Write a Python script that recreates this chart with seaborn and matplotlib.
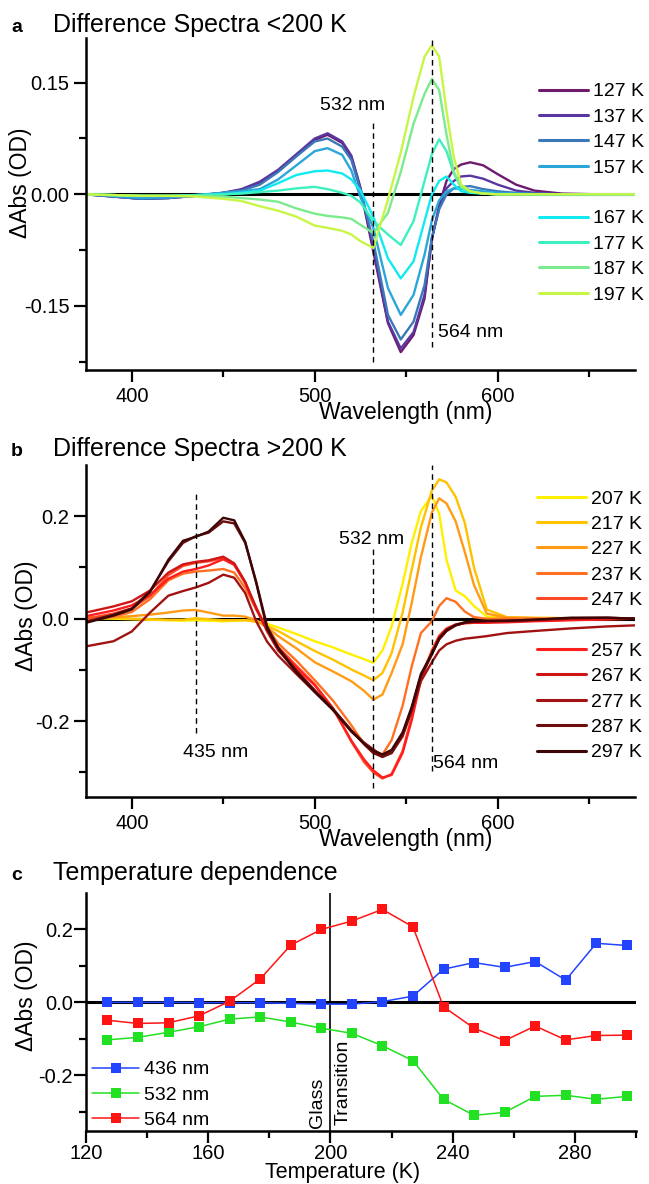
import numpy as np
import pandas as pd
import matplotlib
matplotlib.use('Agg')
import matplotlib.pyplot as plt
import seaborn as sns
from matplotlib.lines import Line2D
from matplotlib.ticker import MultipleLocator, FixedLocator, FormatStrFormatter

sns.set_style('ticks')
plt.rcParams['font.family'] = ['Liberation Sans', 'DejaVu Sans']
plt.rcParams['axes.unicode_minus'] = False
for key in ['text.color', 'axes.labelcolor', 'xtick.color', 'ytick.color', 'axes.edgecolor']:
    plt.rcParams[key] = 'black'

# ---------------- panel a: difference spectra below 200 K ----------------
wl_a = [375, 390, 405, 420, 435, 450, 460, 470, 480, 490, 500, 507, 515, 520, 525,
        532, 540, 547, 554, 560, 564, 568, 572, 576, 580, 585, 592, 600, 610, 620,
        635, 655, 675]
temps_a = ['127 K', '137 K', '147 K', '157 K', '167 K', '177 K', '187 K', '197 K']
colors_a = ['#6e1a6e', '#5a37a0', '#3b78b8', '#2aa6d8', '#12eaf2', '#3cf0c0', '#7aec8e', '#c8f646']

a127 = [0.000, -0.003, -0.006, -0.005, -0.002, 0.002, 0.006, 0.016, 0.031, 0.052, 0.073, 0.080, 0.069, 0.050, 0.007,
        -0.077, -0.173, -0.212, -0.189, -0.140, -0.060, -0.015, 0.018, 0.034, 0.040, 0.043, 0.039, 0.027, 0.013, 0.005,
        0.001, 0.000, 0.000]
a137 = [0.000, -0.003, -0.006, -0.005, -0.002, 0.002, 0.007, 0.017, 0.033, 0.054, 0.075, 0.082, 0.071, 0.052, 0.009,
        -0.072, -0.171, -0.207, -0.185, -0.135, -0.060, -0.018, 0.008, 0.018, 0.024, 0.025, 0.021, 0.013, 0.005, 0.002,
        0.000, 0.000, 0.000]
a147 = [0.000, -0.003, -0.006, -0.005, -0.002, 0.002, 0.005, 0.013, 0.030, 0.051, 0.071, 0.075, 0.064, 0.046, 0.005,
        -0.063, -0.162, -0.195, -0.171, -0.122, -0.058, -0.020, 0.000, 0.008, 0.010, 0.011, 0.007, 0.004, 0.002, 0.001,
        0.000, 0.000, 0.000]
a157 = [0.000, -0.002, -0.005, -0.004, -0.001, 0.002, 0.004, 0.007, 0.020, 0.039, 0.058, 0.062, 0.053, 0.032, -0.004,
        -0.045, -0.126, -0.162, -0.135, -0.081, -0.035, -0.008, 0.004, 0.008, 0.007, 0.006, 0.004, 0.002, 0.001, 0.000,
        0.000, 0.000, 0.000]
a167 = [0.000, -0.001, -0.002, -0.002, -0.001, 0.000, 0.002, 0.005, 0.015, 0.026, 0.031, 0.032, 0.028, 0.020, 0.005,
        -0.030, -0.086, -0.113, -0.090, -0.036, 0.000, 0.018, 0.024, 0.013, 0.004, 0.002, 0.001, 0.000, 0.000, 0.000,
        0.000, 0.000, 0.000]
a177 = [0.000, -0.001, -0.002, -0.002, -0.001, 0.000, 0.001, 0.003, 0.005, 0.008, 0.010, 0.007, 0.002, -0.002, -0.011,
        -0.036, -0.054, -0.068, -0.036, 0.018, 0.054, 0.074, 0.058, 0.028, 0.009, 0.003, 0.001, 0.000, 0.000, 0.000,
        0.000, 0.000, 0.000]
a187 = [0.000, -0.001, -0.002, -0.002, -0.002, -0.003, -0.005, -0.007, -0.010, -0.019, -0.026, -0.029, -0.031, -0.033, -0.041,
        -0.052, -0.025, 0.030, 0.095, 0.135, 0.155, 0.140, 0.080, 0.030, 0.010, 0.004, 0.001, 0.000, 0.000, 0.000,
        0.000, 0.000, 0.000]
a197 = [0.000, -0.001, -0.002, -0.002, -0.003, -0.006, -0.009, -0.016, -0.022, -0.030, -0.042, -0.045, -0.049, -0.054, -0.063,
        -0.072, -0.007, 0.056, 0.131, 0.185, 0.200, 0.185, 0.112, 0.050, 0.013, 0.004, 0.001, 0.000, 0.000, 0.000,
        0.000, 0.000, 0.000]

# ---------------- panel b: difference spectra above 200 K ----------------
wl_b = [375, 390, 400, 410, 420, 428, 435, 442, 450, 456, 462, 468, 474, 480, 490,
        500, 510, 520, 527, 532, 537, 542, 548, 553, 558, 564, 568, 572, 577, 582,
        587, 594, 605, 620, 640, 660, 675]
temps_b = ['207 K', '217 K', '227 K', '237 K', '247 K', '257 K', '267 K', '277 K', '287 K', '297 K']
colors_b = ['#fff000', '#ffc200', '#ff9b14', '#ff7022', '#ff4a26', '#ff1e1e', '#cf1515', '#a11313', '#6e0d0d', '#3d0606']

b207 = [0.001, 0.000, -0.001, -0.002, -0.003, -0.004, -0.003, -0.004, -0.005, -0.004, -0.003, -0.005, -0.010, -0.017, -0.030,
        -0.044, -0.056, -0.070, -0.079, -0.086, -0.062, -0.015, 0.068, 0.148, 0.210, 0.240, 0.205, 0.115, 0.055, 0.044,
        0.025, 0.004, 0.001, 0.000, 0.000, 0.000, 0.000]
b217 = [0.003, 0.002, 0.000, -0.001, -0.002, -0.002, 0.001, -0.001, -0.003, -0.003, -0.003, -0.006, -0.014, -0.024, -0.044,
        -0.063, -0.080, -0.099, -0.111, -0.120, -0.106, -0.067, 0.012, 0.096, 0.178, 0.250, 0.272, 0.266, 0.238, 0.187,
        0.100, 0.018, 0.003, 0.002, 0.001, 0.000, 0.000]
b227 = [0.000, 0.003, 0.005, 0.008, 0.012, 0.016, 0.017, 0.012, 0.006, 0.006, 0.004, -0.003, -0.017, -0.034, -0.058,
        -0.085, -0.103, -0.122, -0.141, -0.158, -0.148, -0.106, -0.050, 0.031, 0.120, 0.207, 0.235, 0.225, 0.190, 0.130,
        0.066, 0.010, 0.002, 0.001, 0.000, 0.000, 0.000]
b237 = [-0.002, 0.004, 0.013, 0.038, 0.075, 0.088, 0.092, 0.094, 0.097, 0.090, 0.060, 0.018, -0.018, -0.048, -0.082,
        -0.120, -0.160, -0.208, -0.245, -0.262, -0.265, -0.237, -0.170, -0.093, -0.028, -0.005, 0.025, 0.040, 0.033, 0.014,
        0.003, 0.000, 0.000, 0.000, 0.000, 0.000, 0.000]
b247 = [0.000, 0.010, 0.020, 0.044, 0.085, 0.103, 0.109, 0.112, 0.118, 0.106, 0.070, 0.020, -0.022, -0.055, -0.092,
        -0.128, -0.175, -0.240, -0.280, -0.300, -0.312, -0.303, -0.258, -0.192, -0.115, -0.062, -0.033, -0.019, -0.011, -0.008,
        -0.006, -0.006, -0.005, -0.004, -0.002, -0.001, 0.000]
b257 = [0.005, 0.016, 0.026, 0.046, 0.078, 0.092, 0.097, 0.104, 0.116, 0.105, 0.070, 0.022, -0.022, -0.058, -0.095,
        -0.130, -0.175, -0.238, -0.275, -0.296, -0.310, -0.305, -0.262, -0.198, -0.120, -0.065, -0.035, -0.020, -0.012, -0.009,
        -0.008, -0.008, -0.007, -0.005, -0.003, -0.001, 0.000]
b267 = [0.012, 0.024, 0.034, 0.055, 0.090, 0.106, 0.111, 0.114, 0.121, 0.108, 0.072, 0.020, -0.025, -0.062, -0.100,
        -0.140, -0.178, -0.220, -0.243, -0.256, -0.266, -0.260, -0.226, -0.175, -0.112, -0.068, -0.040, -0.024, -0.013, -0.008,
        -0.006, -0.005, -0.005, -0.003, 0.000, 0.001, 0.000]
b277 = [-0.054, -0.044, -0.025, 0.012, 0.045, 0.054, 0.061, 0.070, 0.086, 0.080, 0.050, -0.005, -0.045, -0.072, -0.108,
        -0.143, -0.178, -0.218, -0.242, -0.255, -0.268, -0.262, -0.230, -0.180, -0.122, -0.085, -0.062, -0.050, -0.043, -0.039,
        -0.037, -0.034, -0.028, -0.024, -0.019, -0.015, -0.013]
b287 = [-0.006, 0.008, 0.020, 0.054, 0.112, 0.148, 0.161, 0.168, 0.190, 0.186, 0.148, 0.072, -0.015, -0.056, -0.102,
        -0.140, -0.176, -0.218, -0.245, -0.262, -0.270, -0.262, -0.226, -0.176, -0.112, -0.070, -0.040, -0.024, -0.013, -0.008,
        -0.006, -0.005, -0.004, -0.002, 0.001, 0.002, 0.000]
b297 = [-0.008, 0.006, 0.018, 0.052, 0.115, 0.152, 0.160, 0.170, 0.197, 0.192, 0.150, 0.070, -0.020, -0.058, -0.105,
        -0.143, -0.178, -0.220, -0.244, -0.258, -0.265, -0.256, -0.222, -0.172, -0.108, -0.068, -0.038, -0.022, -0.012, -0.007,
        -0.005, -0.004, -0.004, -0.002, 0.002, 0.002, 0.000]

# ---------------- panel c: temperature dependence ----------------
temps_c = [127, 137, 147, 157, 167, 177, 187, 197, 207, 217, 227, 237, 247, 257, 267, 277, 287, 297]
probes_c = ['436 nm', '532 nm', '564 nm']
colors_c = ['#2244ff', '#22e022', '#ff1414']
c436 = [0.000, 0.000, 0.000, -0.001, -0.001, -0.001, -0.003, -0.005, -0.005, 0.002, 0.017, 0.091, 0.109, 0.096, 0.112, 0.061, 0.162, 0.156]
c532 = [-0.103, -0.096, -0.082, -0.067, -0.046, -0.040, -0.054, -0.071, -0.085, -0.119, -0.160, -0.266, -0.310, -0.302, -0.258, -0.255, -0.266, -0.258]
c564 = [-0.049, -0.058, -0.056, -0.037, 0.003, 0.064, 0.157, 0.200, 0.223, 0.255, 0.207, -0.012, -0.071, -0.105, -0.065, -0.103, -0.091, -0.090]

# long-form tables for seaborn
spec_a = pd.DataFrame({
    'wavelength': wl_a * len(temps_a),
    'dabs': a127 + a137 + a147 + a157 + a167 + a177 + a187 + a197,
    'temp': np.repeat(temps_a, len(wl_a)),
})
spec_b = pd.DataFrame({
    'wavelength': wl_b * len(temps_b),
    'dabs': b207 + b217 + b227 + b237 + b247 + b257 + b267 + b277 + b287 + b297,
    'temp': np.repeat(temps_b, len(wl_b)),
})
tdep = pd.DataFrame({
    'temperature': temps_c * 3,
    'dabs': c436 + c532 + c564,
    'probe': np.repeat(probes_c, len(temps_c)),
})

W, H = 649, 1184
fig = plt.figure(figsize=(W / 100, H / 100), dpi=100)


def px_axes(left, top, right, bottom):
    return fig.add_axes([left / W, 1 - bottom / H, (right - left) / W, (bottom - top) / H])


def style_axis(ax, pad):
    sns.despine(ax=ax)
    for s in ['left', 'bottom']:
        ax.spines[s].set_linewidth(1.8)
    ax.tick_params(which='major', direction='out', length=8.5, width=1.6, labelsize=14.5, pad=pad, color='black')
    ax.tick_params(which='minor', direction='out', length=5, width=1.6, color='black')
    ax.axhline(0, color='black', lw=2.2, zorder=1)


def panel_title(letter, title, y):
    fig.text(11 / W, 1 - y / H, letter, fontsize=14, fontweight='bold', va='baseline', ha='left')
    fig.text(53 / W, 1 - y / H, title, fontsize=18, va='baseline', ha='left')


def spectra_legend(ax, labels, colors, split, x, y):
    handles = [Line2D([], [], color=c, lw=2.2) for c in colors]
    labs = list(labels)
    handles.insert(split, Line2D([], [], color='none'))
    labs.insert(split, '')
    ax.legend(handles, labs, loc='upper left', bbox_to_anchor=(x, y), frameon=False, fontsize=14,
              handlelength=2.5, handletextpad=0.3, labelspacing=0.4, borderpad=0, borderaxespad=0)


# ---- a ----
ax_a = px_axes(86, 38, 635, 370)
sns.lineplot(data=spec_a, x='wavelength', y='dabs', hue='temp', hue_order=temps_a,
             palette=colors_a, estimator=None, sort=False, lw=1.7, legend=False, ax=ax_a)
style_axis(ax_a, 3.5)
ax_a.set_xlim(375, 675)
ax_a.set_ylim(-0.236, 0.21)
ax_a.xaxis.set_major_locator(FixedLocator([400, 500, 600]))
ax_a.xaxis.set_minor_locator(FixedLocator([450, 550, 650]))
ax_a.yaxis.set_major_locator(FixedLocator([-0.15, 0.0, 0.15]))
ax_a.yaxis.set_minor_locator(FixedLocator([-0.225, -0.075, 0.075]))
ax_a.yaxis.set_major_formatter(FormatStrFormatter('%.2f'))
ax_a.vlines([532], -0.225, 0.099, colors='black', lw=1, linestyles=(0, (4, 3)))
ax_a.vlines([564], -0.205, 0.211, colors='black', lw=1, linestyles=(0, (4, 3)))
ax_a.text(520.5, 0.119, '532 nm', fontsize=14, ha='center', va='center')
ax_a.text(567.5, -0.186, '564 nm', fontsize=14, ha='left', va='center')
spectra_legend(ax_a, temps_a, colors_a, 4, 0.825, 0.865)
panel_title('a', 'Difference Spectra <200 K', 32)

# ---- b ----
ax_b = px_axes(86, 465, 635, 797)
sns.lineplot(data=spec_b, x='wavelength', y='dabs', hue='temp', hue_order=temps_b,
             palette=colors_b, estimator=None, sort=False, lw=1.7, legend=False, ax=ax_b)
style_axis(ax_b, 3.5)
ax_b.set_xlim(375, 675)
ax_b.set_ylim(-0.348, 0.30)
ax_b.xaxis.set_major_locator(FixedLocator([400, 500, 600]))
ax_b.xaxis.set_minor_locator(FixedLocator([450, 550, 650]))
ax_b.yaxis.set_major_locator(FixedLocator([-0.2, 0.0, 0.2]))
ax_b.yaxis.set_minor_locator(FixedLocator([-0.3, -0.1, 0.1]))
ax_b.yaxis.set_major_formatter(FormatStrFormatter('%.1f'))
ax_b.vlines([435], -0.223, 0.246, colors='black', lw=1, linestyles=(0, (4, 3)))
ax_b.vlines([532], -0.33, 0.141, colors='black', lw=1, linestyles=(0, (4, 3)))
ax_b.vlines([564], -0.298, 0.30, colors='black', lw=1, linestyles=(0, (4, 3)))
ax_b.text(531, 0.154, '532 nm', fontsize=14, ha='center', va='center')
ax_b.text(446, -0.262, '435 nm', fontsize=14, ha='center', va='center')
ax_b.text(564.5, -0.282, '564 nm', fontsize=14, ha='left', va='center')
spectra_legend(ax_b, temps_b, colors_b, 5, 0.8215, 0.925)
panel_title('b', 'Difference Spectra >200 K', 456)

for ax in (ax_a, ax_b):
    ax.set_xlabel('Wavelength (nm)', fontsize=16.5)
    ax.set_ylabel('\u0394Abs (OD)', fontsize=16.5)
    ax.xaxis.label.set_va('center')
    ax.yaxis.label.set_va('center')
    ax.xaxis.set_label_coords(0.583, -0.1295)
ax_a.yaxis.set_label_coords(-0.12, 0.565)
ax_b.yaxis.set_label_coords(-0.108, 0.545)

# ---- c ----
ax_c = px_axes(86, 893, 636, 1131)
sns.lineplot(data=tdep, x='temperature', y='dabs', hue='probe', hue_order=probes_c,
             palette=colors_c, marker='s', markersize=6.5, markeredgewidth=0, lw=1.1,
             estimator=None, legend=False, ax=ax_c, zorder=3)
style_axis(ax_c, 1)
ax_c.set_xlim(120, 300)
ax_c.set_ylim(-0.353, 0.30)
ax_c.xaxis.set_major_locator(MultipleLocator(40))
ax_c.xaxis.set_minor_locator(FixedLocator([140, 180, 220, 260, 300]))
ax_c.yaxis.set_major_locator(FixedLocator([-0.2, 0.0, 0.2]))
ax_c.yaxis.set_minor_locator(FixedLocator([-0.3, -0.1, 0.1]))
ax_c.yaxis.set_major_formatter(FormatStrFormatter('%.1f'))
ax_c.axvline(200, color='black', lw=1.2, zorder=1)
ax_c.text(195.6, -0.345, 'Glass', rotation=90, fontsize=14, ha='center', va='bottom')
ax_c.text(204.3, -0.336, 'Transition', rotation=90, fontsize=14, ha='center', va='bottom')
c_handles = [Line2D([], [], color=c, lw=1.1, marker='s', markersize=6.5, markeredgewidth=0) for c in colors_c]
ax_c.legend(c_handles, probes_c, loc='upper left', bbox_to_anchor=(0.011, 0.295), frameon=False, fontsize=14,
            handlelength=2.42, handletextpad=0.26, labelspacing=0.4, borderpad=0, borderaxespad=0)
ax_c.set_xlabel('Temperature (K)', fontsize=15.5)
ax_c.set_ylabel('\u0394Abs (OD)', fontsize=16.5)
ax_c.xaxis.label.set_va('center')
ax_c.yaxis.label.set_va('center')
ax_c.xaxis.set_label_coords(0.467, -0.176)
ax_c.yaxis.set_label_coords(-0.108, 0.567)
panel_title('c', 'Temperature dependence', 880)

fig.savefig('out.png', dpi=100)
